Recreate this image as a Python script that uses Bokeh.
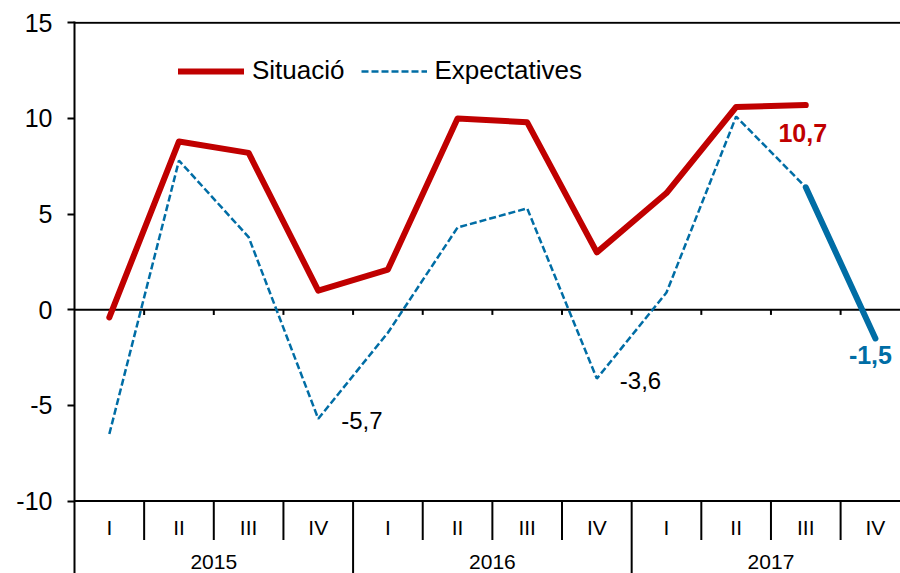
from bokeh.plotting import figure
from bokeh.models import Range1d, FixedTicker, Span, Legend, LegendItem
from bokeh.core.properties import value
from bokeh.embed import file_html
from bokeh.resources import INLINE

# ---- data ----
years = ["2015", "2016", "2017"]
quarters = ["I", "II", "III", "IV"]
situacio = [-0.4, 8.8, 8.2, 1.0, 2.1, 10.0, 9.8, 3.0, 6.1, 10.6, 10.7]
expectatives = [-6.5, 7.8, 3.8, -5.7, -1.2, 4.3, 5.3, -3.6, 0.9, 10.1, 6.4, -1.5]
y_ticks = [-10, -5, 0, 5, 10, 15]

RED = "#C00000"
BLUE = "#006DA5"
FONT = "Liberation Sans"

n_q = len(quarters)
n = len(years) * n_q
xc = [i + 0.5 for i in range(n)]
cat_labels = [q for _ in years for q in quarters]
year_centers = [k * n_q + n_q / 2 for k in range(len(years))]
bounds = list(range(1, n))
q_bounds = [b for b in bounds if b % n_q != 0]
y_bounds = [b for b in bounds if b % n_q == 0]

Y_TOP, Y_BOT = 15.07, -13.79
Y_MIN_TICK = y_ticks[0]

p = figure(width=900, height=573, output_backend="svg", toolbar_location=None,
           x_range=Range1d(0, 11.86), y_range=Range1d(Y_BOT, Y_TOP),
           x_axis_location=None,
           min_border_left=74, min_border_right=0, min_border_top=21, min_border_bottom=0)
p.outline_line_color = None
p.grid.visible = False
p.background_fill_color = "white"

# y axis
ya = p.yaxis[0]
ya.ticker = FixedTicker(ticks=y_ticks)
ya.major_label_overrides = {t: str(t) for t in y_ticks}
ya.major_label_text_font = FONT
ya.major_label_text_font_size = "25px"
ya.major_label_text_color = "black"
ya.axis_line_width = 2
ya.axis_line_color = "black"
ya.major_tick_line_width = 2
ya.major_tick_out = 7
ya.major_tick_in = 0
ya.minor_tick_out = 0
ya.minor_tick_in = 0
ya.major_label_standoff = 15

# horizontal rules
for loc in (y_ticks[-1], 0, Y_MIN_TICK):
    p.add_layout(Span(location=loc, dimension="width", line_color="black",
                      line_width=2, level="underlay"))

# small ticks on the zero line
p.segment(x0=bounds, y0=[0] * len(bounds), x1=bounds, y1=[-0.27] * len(bounds),
          line_color="black", line_width=2)
# category separators
p.segment(x0=q_bounds, y0=[Y_MIN_TICK] * len(q_bounds), x1=q_bounds,
          y1=[-12.04] * len(q_bounds), line_color="black", line_width=2)
p.segment(x0=y_bounds, y0=[Y_MIN_TICK] * len(y_bounds), x1=y_bounds,
          y1=[Y_BOT] * len(y_bounds), line_color="black", line_width=2)

# category labels
p.text(x=xc, y=[-11.36] * n, text=cat_labels, text_font=value(FONT),
       text_font_size="21px", text_align="center", text_baseline="middle",
       text_color="black")
p.text(x=year_centers, y=[-13.2] * len(years), text=years, text_font=value(FONT),
       text_font_size="21px", text_align="center", text_baseline="middle",
       text_color="black")

# series
n_s = len(situacio)
r_sit = p.line(xc[:n_s], situacio, line_color=RED, line_width=6,
               line_cap="round", line_join="round")
r_exp = p.line(xc[:n_s], expectatives[:n_s], line_color=BLUE, line_width=2.5,
               line_dash="7 3")
p.line(xc[n_s - 1:], expectatives[n_s - 1:], line_color=BLUE, line_width=6,
       line_cap="round", line_join="round")

def fmt(v):
    return f"{v:.1f}".replace(".", ",")

# data labels
p.text(x=[xc[n_s - 1]], y=[situacio[-1]], text=[fmt(situacio[-1])],
       text_font=value(FONT), text_font_size="25px", text_font_style="bold",
       text_color=RED, text_align="center", text_baseline="middle",
       x_offset=-3, y_offset=28)
p.text(x=[xc[-1]], y=[expectatives[-1]], text=[fmt(expectatives[-1])],
       text_font=value(FONT), text_font_size="25px", text_font_style="bold",
       text_color=BLUE, text_align="center", text_baseline="middle",
       x_offset=-5, y_offset=17)
low_idx = [3, 7]
p.text(x=[xc[i] for i in low_idx], y=[expectatives[i] for i in low_idx],
       text=[fmt(expectatives[i]) for i in low_idx],
       text_font=value(FONT), text_font_size="24px", text_color="black",
       text_align="left", text_baseline="middle", x_offset=23, y_offset=2)

legend = Legend(items=[LegendItem(label="Situació", renderers=[r_sit]),
                       LegendItem(label="Expectatives", renderers=[r_exp])],
                location=(104, 487), orientation="horizontal",
                glyph_width=66, glyph_height=20, label_standoff=8, spacing=16,
                padding=0, margin=0, border_line_color=None,
                background_fill_alpha=0,
                label_text_font=FONT, label_text_font_size="26px",
                label_text_color="black")
p.add_layout(legend)

open("out.html", "w").write(file_html(p, INLINE))
